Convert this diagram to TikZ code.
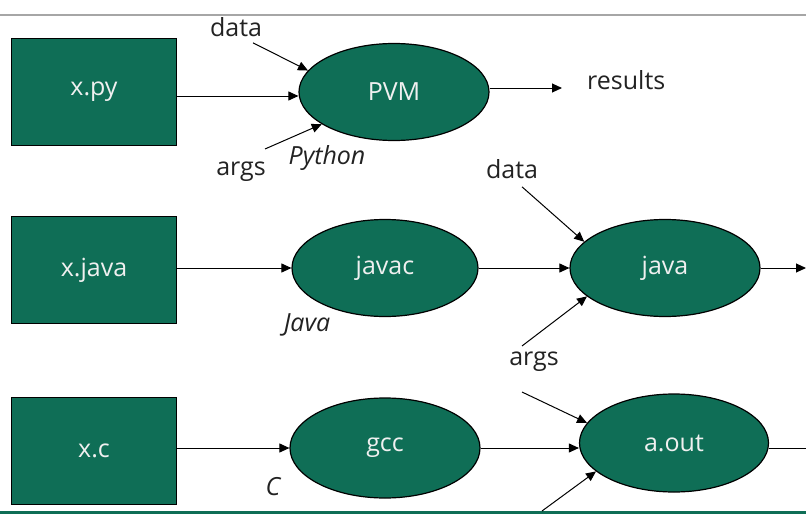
\documentclass[tikz,border=0pt]{standalone}
\usepackage{fontspec}
\setmainfont{Open Sans}
\usepackage{tikz}
\usetikzlibrary{positioning}
\usetikzlibrary{shapes.geometric}
\usetikzlibrary{arrows.meta}
\definecolor{slidegreen}{RGB}{15,110,86}
\definecolor{ink}{RGB}{34,34,34}
\newcommand{\slidesize}{\fontsize{25}{30}\selectfont}
\tikzset{srcbox/.style={rectangle, draw=black, line width=1pt, fill=slidegreen, text=white!94!black, minimum width=165pt, minimum height=107pt, inner sep=0pt, font=\slidesize}}
\tikzset{vm/.style={ellipse, draw=black, line width=1.2pt, fill=slidegreen, text=white!94!black, minimum width=190pt, minimum height=97pt, inner sep=0pt, font=\slidesize}}
\tikzset{word/.style={text=ink, inner sep=0pt, font=\slidesize}}
\tikzset{lang/.style={text=ink, inner sep=0pt, font=\slidesize\itshape}}
\tikzset{flow/.style={-{Triangle[length=10pt,width=9pt]}, line width=1pt}}

\begin{document}
\begin{tikzpicture}[x=1pt, y=-1pt]
\useasboundingbox (0,0) rectangle (806,514);
\draw[gray!70, line width=1.2pt] (0,15) -- (806,15);
\fill[slidegreen] (0,511) rectangle (806,514);

% python row
\node[srcbox] (xpy) at (94,92) {x.py};
\node[vm] (pvm) at (394,92) {PVM};
\node[word] (data1) at (236,27) {data};
\node[word] (args1) at (241,172) {args};
\node[lang] (python) at (327,158) {Python};
\coordinate (res) at (562,88);
\node[word, anchor=west] (results) at (587,80) {results};

% java row
\node[srcbox] (xjava) at (94,270) {x.java};
\node[vm, minimum width=186pt] (javac) at (385,268) {javac};
\node[vm] (java) at (665,268) {java};
\node[lang] (javalang) at (307,325) {Java};
\node[word] (data2) at (512,169) {data};
\node[word] (args2) at (534,362) {args};
\coordinate (jout) at (806,268);

% c row
\node[srcbox] (xc) at (94,451) {x.c};
\node[vm, minimum height=100pt] (gcc) at (385,448) {gcc};
\node[vm, minimum width=189pt, minimum height=98pt] (aout) at (674,443) {a.out};
\node[lang] (clang) at (273,487) {C};
\coordinate (aend) at (806,448);
\coordinate (cin) at (542,511);

\draw[flow] (xpy.east |- 0,96) -- (pvm.west |- 0,96);
\draw[flow] ([shift={(17pt,-6pt)}]data1.south) -- (pvm.166);
\draw[flow] ([shift={(24pt,13pt)}]args1.north) -- (pvm.204);
\draw[flow] (pvm.east |- res) -- (res);

\draw[flow] (xjava.east |- javac.west) -- (javac.west);
\draw[flow] (javac.east) -- (java.west);
\draw[flow] (java.east) -- (jout);
\draw[flow] ([shift={(10pt,-8pt)}]data2.south) -- (java.162);
\draw[flow] ([shift={(-12pt,6pt)}]args2.north) -- (java.200);

\draw[flow] (xc.east |- gcc.west) -- (gcc.west);
\draw[flow] (gcc.east) -- (gcc.east -| aout.west);
\draw (aout.east |- aend) -- (aend);
\draw[flow] ([shift={(-12pt,-20pt)}]args2.south) -- (aout.167);
\draw[flow] (cin) -- (aout.200);
\end{tikzpicture}
\end{document}
